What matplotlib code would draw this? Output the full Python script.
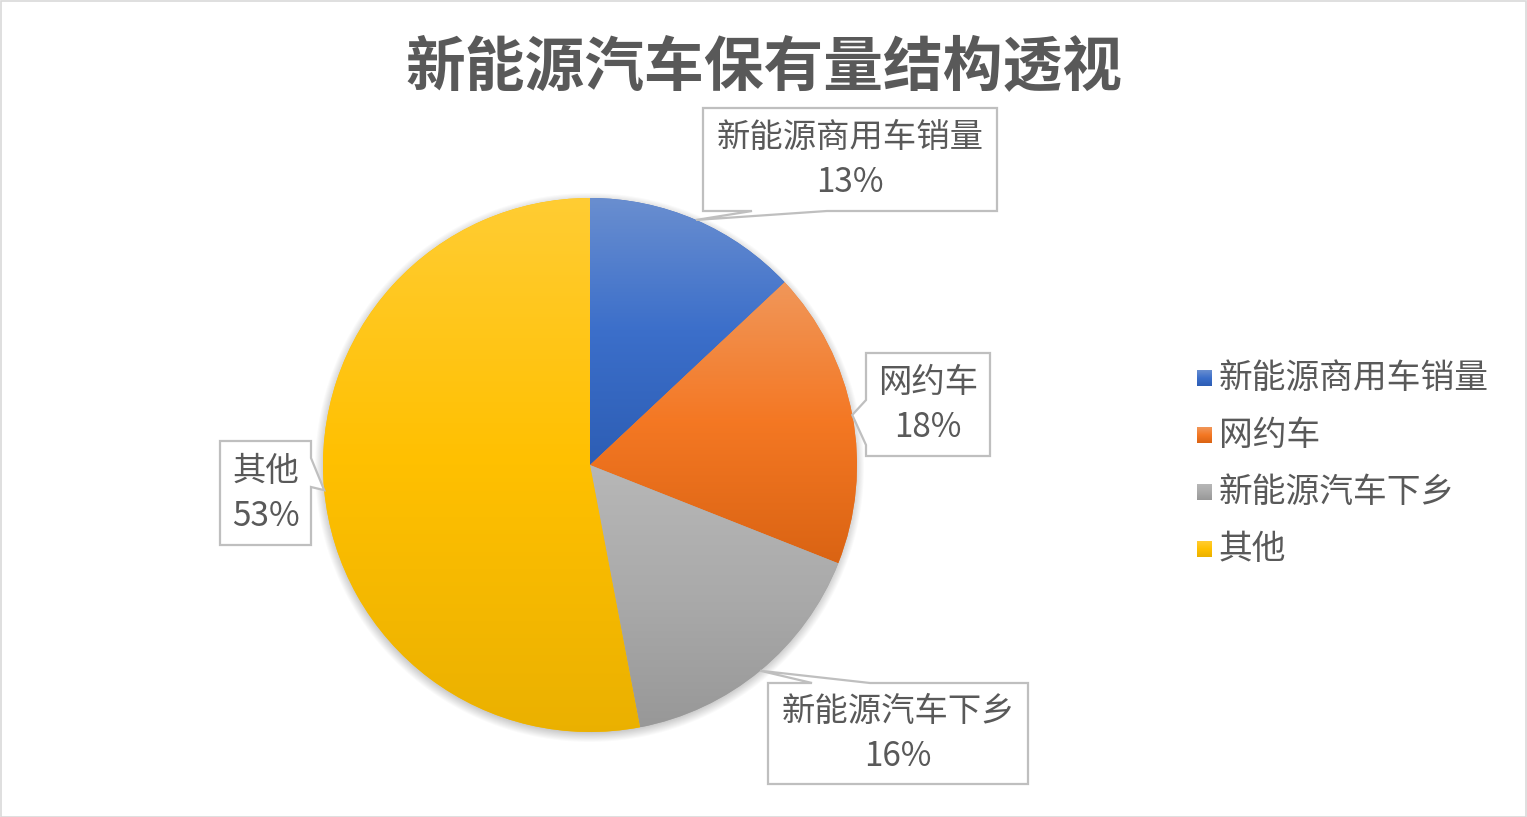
import numpy as np
import matplotlib
matplotlib.use('Agg')
from matplotlib import pyplot as plt
from matplotlib.patches import Polygon, Rectangle
from matplotlib.colors import to_rgb, rgb_to_hsv, hsv_to_rgb

plt.rcParams['font.family'] = ['Noto Sans CJK SC', 'DejaVu Sans']

title = '新能源汽车保有量结构透视'
categories = ['新能源商用车销量', '网约车', '新能源汽车下乡', '其他']
shares = [13, 18, 16, 53]
base_colors = ['#4472C4', '#ED7D31', '#A5A5A5', '#FFC000']

W, H = 1527, 817
TXT = '#595959'
EDGE = '#BFBFBF'

fig = plt.figure(figsize=(W / 100, H / 100), dpi=100)
ax = fig.add_axes([0, 0, 1, 1])

cx, cy, R = 590, H - 465, 267


def Y(y):
    return H - y


def stops(c):
    # excel-like gradient: light tint on top, saturated middle, darker shade at the bottom
    rgb = np.array(to_rgb(c))
    hsv = rgb_to_hsv(rgb)
    m = hsv.copy()
    m[1] = min(1, m[1] * 1.08)
    m[2] = min(1, m[2] * 1.03)
    mid = hsv_to_rgb(m)
    b = hsv.copy()
    b[1] = min(1, b[1] * 1.15)
    b[2] = b[2] * 0.92
    bot = hsv_to_rgb(b)
    top = rgb + (1 - rgb) * 0.2
    t = np.linspace(0, 1, 256)[:, None]
    g = np.where(t < 0.5, top * (1 - 2 * t) + mid * 2 * t, mid * (2 - 2 * t) + bot * (2 * t - 1))
    return g


# soft shadow under the pie
gx, gy = np.meshgrid(np.arange(cx - R - 20, cx + R + 20), np.arange(cy - R - 20, cy + R + 20))
d = np.hypot(gx - cx + 1, gy - (cy - 3))
a = 0.25 * np.clip(1 - (d - R + 4) / 12, 0, 1)
shadow = np.zeros(d.shape + (4,))
shadow[..., 3] = a
ax.imshow(shadow, extent=(cx - R - 20, cx + R + 20, cy - R - 20, cy + R + 20),
          origin='lower', zorder=1, interpolation='bilinear')

wedges, _ = ax.pie(shares, colors=base_colors, startangle=90, counterclock=False,
                   center=(cx, cy), radius=R, wedgeprops=dict(linewidth=0))

for w, c in zip(wedges, base_colors):
    w.set_zorder(2)
    ext = w.get_path().get_extents()
    grad = stops(c)
    img = ax.imshow(grad[:, None, :], extent=(ext.x0, ext.x1, ext.y0, ext.y1),
                    origin='upper', aspect='auto', zorder=3, interpolation='bilinear')
    img.set_clip_path(w)

ax.set_xlim(0, W)
ax.set_ylim(0, H)
ax.set_aspect('equal')
ax.axis('off')

# callouts: box (x0, y0, x1, y1), side of the pointer, base along that side
boxes = [(703, 108, 997, 211), (866, 353, 990, 456), (768, 683, 1028, 784), (220, 441, 311, 545)]
sides = ['bottom', 'left', 'top', 'right']
bases = [(752, 827), (400, 445), (812, 870), (458, 487)]

cum = np.cumsum([0] + shares[:-1])
for i, (cat, s) in enumerate(zip(categories, shares)):
    mid = np.deg2rad(90 - (cum[i] + s / 2) / sum(shares) * 360)
    tx, ty = cx + R * np.cos(mid), cy + R * np.sin(mid)
    tip = (tx, H - ty)
    x0, y0, x1, y1 = boxes[i]
    b0, b1 = bases[i]
    if sides[i] == 'bottom':
        pts = [(x0, y0), (x1, y0), (x1, y1), (b1, y1), tip, (b0, y1), (x0, y1)]
    elif sides[i] == 'left':
        pts = [(x0, y0), (x1, y0), (x1, y1), (x0, y1), (x0, b1), tip, (x0, b0)]
    elif sides[i] == 'top':
        pts = [(x0, y0), (b0, y0), tip, (b1, y0), (x1, y0), (x1, y1), (x0, y1)]
    else:
        pts = [(x0, y0), (x1, y0), (x1, b0), tip, (x1, b1), (x1, y1), (x0, y1)]
    ax.add_patch(Polygon([(px, Y(py)) for px, py in pts], closed=True, facecolor='white',
                         edgecolor=EDGE, linewidth=1.6, zorder=5, joinstyle='miter'))
    xm = (x0 + x1) / 2
    ym = (y0 + y1) / 2
    ax.text(xm, Y(ym - 22), cat, ha='center', va='center', fontsize=24, color=TXT, zorder=6)
    ax.text(xm, Y(ym + 23), f'{s}%', ha='center', va='center', fontsize=24, color=TXT, zorder=6)

# legend
for i, (cat, c) in enumerate(zip(categories, base_colors)):
    ly = 378 + i * 57
    sq = stops(c)
    ax.imshow(sq[:, None, :], extent=(1197, 1212, Y(ly + 8), Y(ly - 8)),
              origin='upper', aspect='auto', zorder=4, interpolation='bilinear')
    ax.text(1219, Y(ly), cat, ha='left', va='center', fontsize=24.3, color=TXT)

ax.set_xlim(0, W)
ax.set_ylim(0, H)

ax.text(764, Y(68), title, ha='center', va='center', fontsize=43, fontweight='bold', color=TXT)

fig.patches.append(Rectangle((0.5 / W, 0.5 / H), 1 - 1.5 / W, 1 - 1.5 / H, transform=fig.transFigure,
                             fill=False, edgecolor='#D9D9D9', linewidth=1.2))

fig.savefig('out.png', dpi=100)
